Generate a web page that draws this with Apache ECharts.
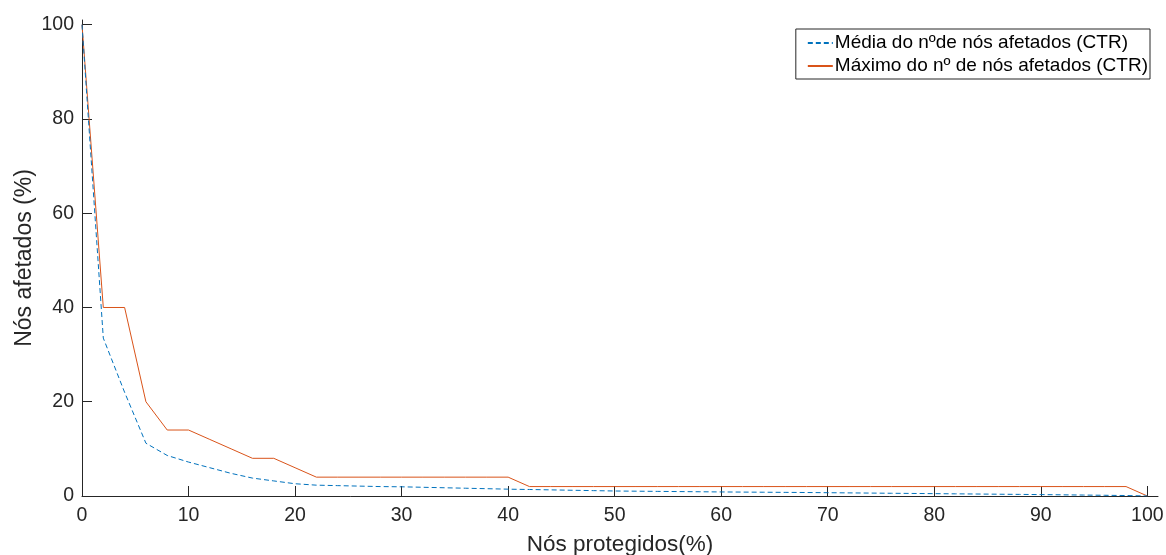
<!DOCTYPE html>
<html><head><meta charset="utf-8">
<script src="https://cdn.jsdelivr.net/npm/echarts@6/dist/echarts.min.js"></script>
<style>html,body{margin:0;padding:0;background:#fff}#c{width:1166px;height:555px}</style>
</head><body><div id="c"></div>
<script>
const xValues = [0,2,4,6,8,10,12,14,16,18,20,22,24,26,28,30,32,34,36,38,40,42,44,46,48,50,52,54,56,58,60,62,64,66,68,70,72,74,76,78,80,82,84,86,88,90,92,94,96,98,100];
const meanValues = [100,33.5,22,11.2,8.6,7.2,6.0,4.8,3.8,3.2,2.6,2.3,2.2,2.1,2.0,1.95,1.85,1.75,1.65,1.55,1.45,1.38,1.3,1.22,1.14,1.06,1.02,0.98,0.94,0.9,0.86,0.83,0.8,0.77,0.74,0.7,0.66,0.62,0.58,0.54,0.5,0.46,0.42,0.38,0.34,0.3,0.25,0.2,0.15,0.1,0];
const maxValues = [100,40,40,20,14,14,12,10,8,8,6,4,4,4,4,4,4,4,4,4,4,2,2,2,2,2,2,2,2,2,2,2,2,2,2,2,2,2,2,2,2,2,2,2,2,2,2,2,2,2,0];
const xTicks = [0,10,20,30,40,50,60,70,80,90,100];
const yTicks = [0,20,40,60,80,100];
const seriesNames = ['Média do nºde nós afetados (CTR)', 'Máximo do nº de nós afetados (CTR)'];
const xTitle = 'Nós protegidos(%)';
const yTitle = 'Nós afetados (%)';

const font = 'Liberation Sans, Arial, Helvetica, sans-serif';
const axisCol = '#262626';
const chart = echarts.init(document.getElementById('c'), null, {renderer:'canvas'});
chart.setOption({
  animation: false,
  backgroundColor: '#fff',
  grid: {left: 82, right: 8, top: 20, bottom: 59, containLabel: false, outerBoundsMode: 'none'},
  legend: {
    orient: 'vertical', right: 16, top: 29,
    borderColor: axisCol, borderWidth: 1, borderRadius: 0,
    padding: [4, 2, 3, 11], itemGap: 3, itemWidth: 25, itemHeight: 14,
    backgroundColor: '#fff',
    itemStyle: {opacity: 0},
    textStyle: {fontFamily: font, fontSize: 19, lineHeight: 20, color: '#000', padding: [0,0,0,-3]},
    data: seriesNames
  },
  xAxis: {
    type: 'value', min: 0, max: 101,
    name: xTitle, nameLocation: 'middle', nameGap: 37, nameMoveOverlap: false,
    nameTextStyle: {fontFamily: font, fontSize: 22.5, color: axisCol},
    axisLine: {show: true, lineStyle: {color: axisCol, width: 1}},
    axisTick: {show: true, inside: true, length: 10, customValues: xTicks, lineStyle: {color: axisCol}},
    axisLabel: {customValues: xTicks, fontFamily: font, fontSize: 19.5, color: axisCol, margin: 10},
    splitLine: {show: false}
  },
  yAxis: {
    type: 'value', min: 0, max: 101,
    name: yTitle, nameLocation: 'middle', nameGap: 46, nameMoveOverlap: false,
    nameTextStyle: {fontFamily: font, fontSize: 23, color: axisCol},
    axisLine: {show: true, lineStyle: {color: axisCol, width: 1}},
    axisTick: {show: true, inside: true, length: 10, customValues: yTicks, lineStyle: {color: axisCol}},
    axisLabel: {customValues: yTicks, fontFamily: font, fontSize: 19.5, color: axisCol, margin: 8},
    splitLine: {show: false}
  },
  series: [
    {name: seriesNames[0], type: 'line', symbol: 'none', data: xValues.map((x,i)=>[x, meanValues[i]]),
     lineStyle: {color: '#0072BD', width: 1, type: [5, 3]}, itemStyle: {color: '#0072BD'}, z: 3},
    {name: seriesNames[1], type: 'line', symbol: 'none', data: xValues.map((x,i)=>[x, maxValues[i]]),
     lineStyle: {color: '#D95319', width: 1}, itemStyle: {color: '#D95319'}, z: 2}
  ]
});
</script></body></html>
